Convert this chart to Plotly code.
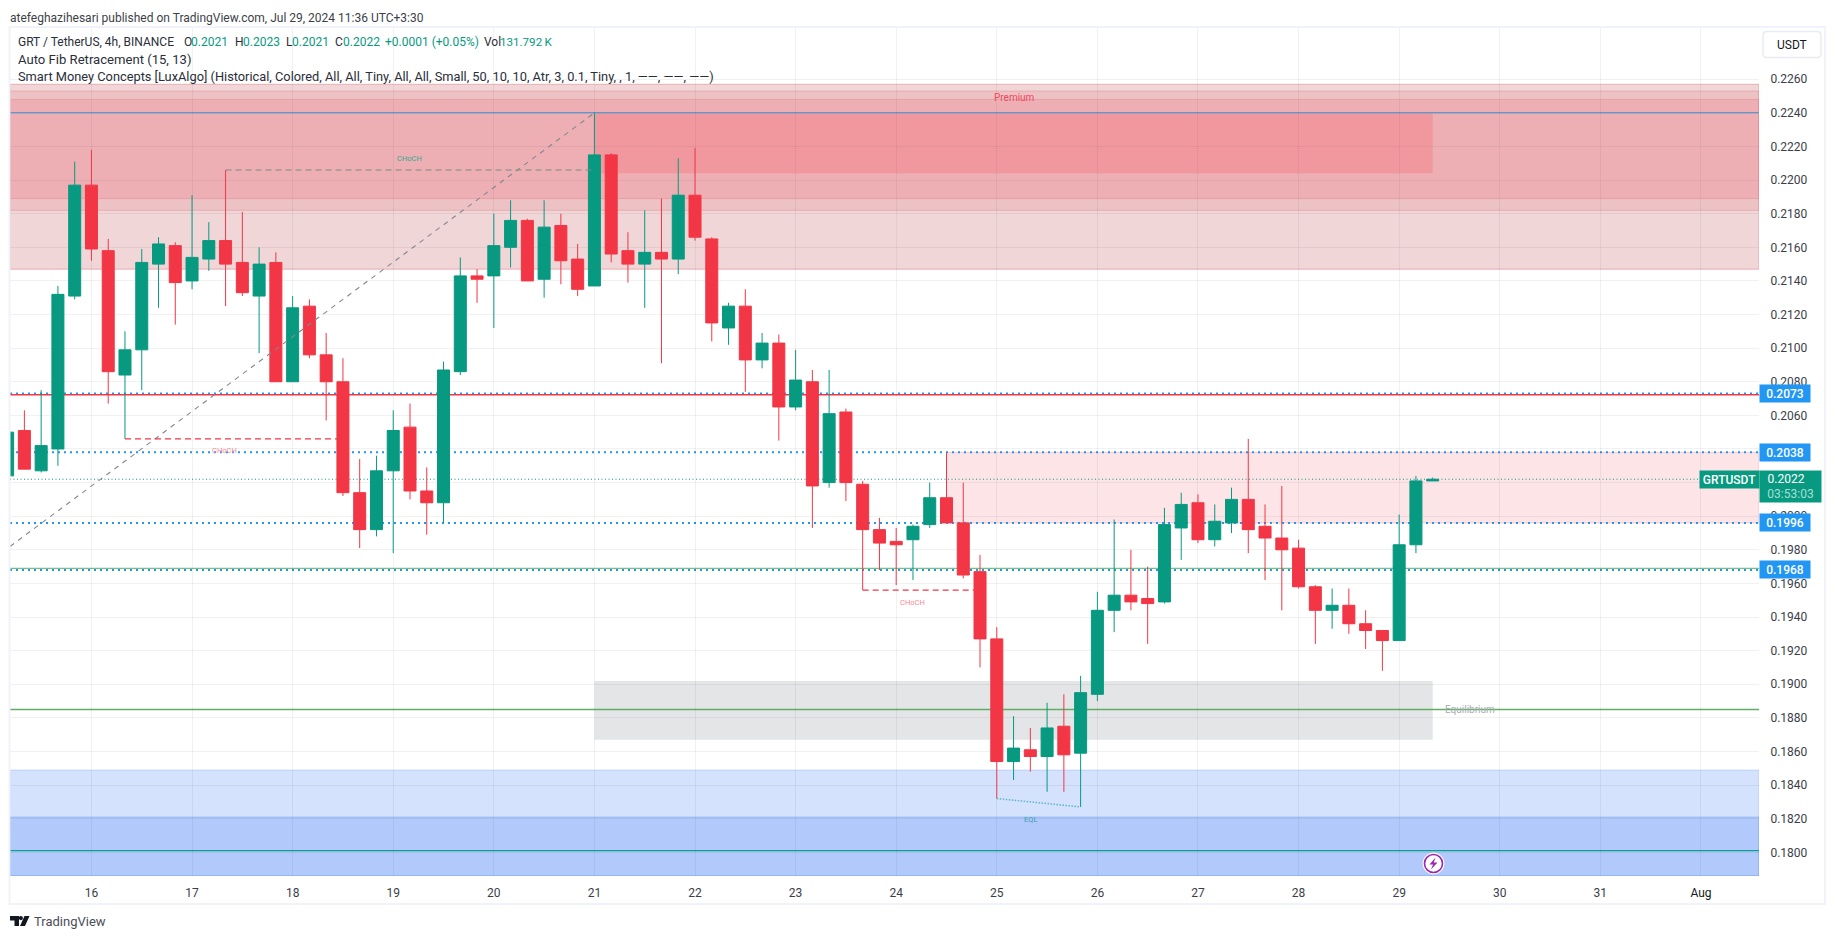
import plotly.graph_objects as go
import pandas as pd

# ---------- data ----------
start = "2024-07-15 04:00"
opens = [.2024,.2051,.2027,.2040,.2131,.2197,.2158,.2084,.2099,.2150,.2161,.2140,.2153,.2164,.2151,.2131,.2151,.2080,.2125,.2096,.2080,.2014,.1992,.2027,.2053,.2015,.2008,.2086,.2143,.2143,.2160,.2176,.2141,.2173,.2153,.2137,.2215,.2158,.2150,.2157,.2153,.2191,.2165,.2112,.2125,.2093,.2103,.2065,.2080,.2020,.2062,.2019,.1992,.1985,.1986,.1995,.2011,.1996,.1967,.1927,.1854,.1861,.1857,.1875,.1859,.1894,.1944,.1953,.1951,.1949,.1993,.2008,.1986,.1996,.2010,.1994,.1987,.1981,.1958,.1944,.1947,.1936,.1932,.1926,.1983,.2021]
highs = [.2052,.2063,.2075,.2137,.2211,.2218,.2165,.2110,.2159,.2166,.2163,.2191,.2175,.2206,.2181,.2160,.2157,.2131,.2129,.2109,.2094,.2034,.2036,.2063,.2067,.2029,.2092,.2154,.2147,.2180,.2188,.2177,.2188,.2180,.2162,.2240,.2216,.2169,.2182,.2189,.2213,.2219,.2166,.2127,.2135,.2109,.2108,.2099,.2087,.2087,.2064,.2021,.1999,.1993,.1995,.2020,.2038,.2020,.1977,.1934,.1881,.1874,.1889,.1894,.1905,.1955,.1998,.1980,.1970,.2005,.2014,.2013,.2007,.2017,.2046,.2007,.2018,.1986,.1959,.1957,.1957,.1944,.1932,.2001,.2024,.2023]
lows = [.2021,.2028,.2026,.2030,.2129,.2152,.2067,.2046,.2075,.2124,.2114,.2135,.2146,.2125,.2131,.2097,.2080,.2080,.2094,.2057,.2012,.1981,.1988,.1978,.2010,.1989,.1996,.2084,.2127,.2112,.2148,.2140,.2130,.2138,.2131,.2137,.2151,.2139,.2124,.2091,.2144,.2164,.2104,.2102,.2074,.2088,.2045,.2063,.1993,.2017,.2009,.1956,.1968,.1959,.1962,.1993,.1996,.1963,.1910,.1832,.1843,.1848,.1836,.1836,.1827,.1890,.1931,.1944,.1924,.1948,.1974,.1984,.1982,.1990,.1978,.1962,.1944,.1957,.1924,.1933,.1930,.1921,.1908,.1926,.1978,.2021]
closes = [.2050,.2028,.2042,.2132,.2197,.2159,.2086,.2099,.2151,.2162,.2139,.2154,.2164,.2150,.2133,.2150,.2080,.2124,.2096,.2080,.2014,.1992,.2027,.2051,.2015,.2008,.2087,.2143,.2141,.2161,.2176,.2140,.2172,.2152,.2135,.2215,.2156,.2150,.2157,.2153,.2191,.2166,.2115,.2125,.2093,.2103,.2065,.2081,.2018,.2061,.2020,.1992,.1984,.1983,.1994,.2011,.1996,.1965,.1927,.1854,.1862,.1857,.1874,.1858,.1895,.1944,.1953,.1949,.1948,.1995,.2007,.1986,.1997,.2010,.1992,.1987,.1980,.1958,.1944,.1947,.1936,.1932,.1926,.1983,.2021,.2022]

y_ticks = [.1800,.1820,.1840,.1860,.1880,.1900,.1920,.1940,.1960,.1980,.2000,.2020,.2040,.2060,.2080,.2100,.2120,.2140,.2160,.2180,.2200,.2220,.2240,.2260]
day_ticks = ["2024-07-%02d" % d for d in range(16, 32)] + ["2024-08-01"]
day_labels = [str(d) for d in range(16, 32)] + ['<span style="color:#131722">Aug</span>']
x_range = ["2024-07-15 04:34", "2024-08-01 13:51"]
y_range = [0.17859, 0.22905]

ob_time = "2024-07-21 00:00"
zone_end = "2024-07-29 08:00"
supply_time = "2024-07-24 12:00"
premium_outer = [.2147, .2257]
premium_mid = [.2182, .2253]
premium_inner = [.2189, .2248]
order_block = [.2204, .2240]
supply = [.1996, .2038]
equilibrium_zone = [.1867, .1902]
blue_outer = [.1786, .1849]
blue_inner = [.1786, .1821]

fib_top = .2240
red_level = .20722
blue_levels = [.2073, .2038, .1996, .1968]
green_level = .19690
last_price = .2022
eq_level = .1885
teal_level = .1801

fib_x = ["2024-07-15 04:34", "2024-07-21 00:00"]
fib_y = [.1982, .2240]
choch1_x = ["2024-07-17 08:00", "2024-07-21 00:00"]; choch1_y = [.2206, .2206]
choch2_x = ["2024-07-16 08:00", "2024-07-18 12:00"]; choch2_y = [.2046, .2046]
choch3_x = ["2024-07-23 16:00", "2024-07-24 20:00"]; choch3_y = [.1956, .1956]
eql_x = ["2024-07-25 00:00", "2024-07-25 20:00"]; eql_y = [.1832, .1827]

# ---------- page geometry ----------
W, H = 1835, 939
L, R, T, B = 10, 1759, 27.5, 876
def px(x): return (x - L) / (R - L)
def py(y): return 1 - (y - T) / (B - T)

GREEN, RED, BLUE = "#089981", "#F23645", "#2196F3"
times = list(pd.date_range(start, periods=len(opens), freq="4h").strftime("%Y-%m-%d %H:%M"))

fig = go.Figure()

def zone(x0, x1, rng, fill, edge):
    fig.add_shape(type="rect", xref="x", yref="y", x0=x0, x1=x1, y0=rng[0], y1=rng[1],
                  fillcolor=fill, line=dict(color=edge, width=1), layer="below")

zone(x_range[0], x_range[1], premium_outer, "rgba(180,35,50,.19)", "rgba(225,130,140,.55)")
zone(x_range[0], x_range[1], premium_mid, "rgba(213,78,81,.14)", "rgba(225,130,140,.45)")
zone(x_range[0], x_range[1], premium_inner, "rgba(241,91,104,.18)", "rgba(225,130,140,.45)")
zone(ob_time, zone_end, order_block, "rgba(247,98,106,.3)", "rgba(0,0,0,0)")
zone(supply_time, x_range[1], supply, "rgba(242,54,69,.13)", "rgba(242,54,69,.2)")
zone(ob_time, zone_end, equilibrium_zone, "rgba(120,123,134,.2)", "rgba(0,0,0,0)")
zone(x_range[0], x_range[1], blue_outer, "rgba(41,110,245,.2)", "rgba(41,110,245,.2)")
zone(x_range[0], x_range[1], blue_inner, "rgba(41,110,245,.2)", "rgba(41,110,245,.25)")

def hline(v, color, width, dash="solid", x1=None):
    fig.add_shape(type="line", xref="x", yref="y", x0=x_range[0], x1=x1 or x_range[1], y0=v, y1=v,
                  line=dict(color=color, width=width, dash=dash), layer="below")

for v in blue_levels:
    hline(v, BLUE, 2, "2px,4px")
hline(fib_top, "#6f9ccb", 1.5)
hline(red_level, RED, 1.5)
hline(green_level, "#78c27c", 1.2)
hline(last_price, GREEN, 1, "1px,2.5px", x1="2024-07-31 23:30")
hline(eq_level, "#5fae63", 1.5)
hline(teal_level, "#08a08f", 1.2)

def seg(x, y, color, dash, width=1):
    fig.add_trace(go.Scatter(x=x, y=y, mode="lines", hoverinfo="skip", showlegend=False,
                             line=dict(color=color, width=width, dash=dash)))

seg(fib_x, fib_y, "#85878f", "5px,5px", 1.1)
seg(choch1_x, choch1_y, "#7b8b82", "6px,4px", 1.2)
seg(choch2_x, choch2_y, RED, "6px,4px", 1.2)
seg(choch3_x, choch3_y, RED, "6px,4px", 1.2)
seg(eql_x, eql_y, "#5cb6c2", "1.5px,1.5px", 1.5)

fig.add_trace(go.Candlestick(
    x=times, open=opens, high=highs, low=lows, close=closes, showlegend=False,
    increasing=dict(line=dict(color=GREEN, width=1), fillcolor=GREEN),
    decreasing=dict(line=dict(color=RED, width=1), fillcolor=RED),
    hoverinfo="skip"))

def data_label(text, x, y, color, size=7.5):
    fig.add_annotation(text=text, xref="x", yref="y", x=x, y=y, showarrow=False,
                       font=dict(family="Roboto", size=size, color=color), xanchor="center", yanchor="middle")

data_label("CHoCH", "2024-07-19 03:48", .22130, "#3aa893")
data_label("CHoCH", "2024-07-17 07:38", .20390, "#f88a93")
data_label("CHoCH", "2024-07-24 03:48", .19486, "#f88a93")
data_label("EQL", "2024-07-25 07:56", .18195, "#3f9fb4")
data_label("Premium", "2024-07-25 04:10", .2249, "#f0475a", 10)
data_label("Equilibrium", "2024-07-29 17:00", .1885, "#a9adb5", 10)

def txt(text, x, y, size=12, color="#131722", anchor="left", family="Roboto"):
    fig.add_annotation(text=text, xref="paper", yref="paper", x=px(x), y=py(y), showarrow=False,
                       font=dict(family=family, size=size, color=color), xanchor=anchor, yanchor="middle",
                       borderpad=0, borderwidth=0)

txt("atefeghazihesari published on TradingView.com, Jul 29, 2024 11:36 UTC+3:30", 10, 17.5, 12, "#3c3f47")
hdr = "#2a2e39"
txt("GRT / TetherUS, 4h, BINANCE", 18, 41.5, 12, hdr)
txt("O", 184, 41.5, 12, hdr); txt("0.2021", 191, 41.5, 12, GREEN)
txt("H", 235, 41.5, 12, hdr); txt("0.2023", 243, 41.5, 12, GREEN)
txt("L", 286, 41.5, 12, hdr); txt("0.2021", 292, 41.5, 12, GREEN)
txt("C", 335, 41.5, 12, hdr); txt("0.2022", 343, 41.5, 12, GREEN)
txt("+0.0001 (+0.05%)", 385, 41.5, 12, GREEN)
txt("Vol", 484, 41.5, 12, hdr); txt("131.792\u2009K", 500, 41.5, 11.6, GREEN)
txt("Auto Fib Retracement (15, 13)", 18, 59, 13.1, hdr)
txt("Smart Money Concepts [LuxAlgo] (Historical, Colored, All, All, Tiny, All, All, Small, 50, 10, 10, Atr, 3, 0.1, Tiny, , 1, \u2014\u2014, \u2014\u2014, \u2014\u2014)", 18, 76, 12.8, hdr)
txt("USDT", 1791.5, 45, 12, "#131722", "center")
txt("TradingView", 34, 921.5, 13, "#4a4e57")

# price tags
def tag(v, text):
    fig.add_annotation(text=text, xref="paper", yref="y", x=1, y=v, xanchor="left", yanchor="middle",
                       showarrow=False, width=50, height=17, bgcolor=BLUE, align="center", borderpad=0,
                       font=dict(family="Roboto", size=12, color="white", weight=500))
for v in blue_levels:
    tag(v, "%.4f" % v)
fig.add_annotation(text='0.2022\u00a0\u00a0\u00a0<br><span style="color:#a6dfd3">03:53:03</span>', xref="paper", yref="paper",
                   x=1, y=py(486.5), xanchor="left", yanchor="middle", showarrow=False, width=61, height=31,
                   bgcolor=GREEN, align="center", borderpad=0,
                   font=dict(family="Roboto", size=12, color="white"))
fig.add_annotation(text="GRTUSDT", xref="paper", yref="paper", x=px(1699), y=py(479.5), xanchor="left",
                   yanchor="middle", showarrow=False, width=59, height=17, bgcolor=GREEN, align="center",
                   borderpad=0, font=dict(family="Roboto", size=12, color="white", weight=500))

def pshape(**k):
    fig.add_shape(xref="paper", yref="paper", layer="above", **k)

# outer frame
pshape(type="rect", x0=px(9.5), x1=px(1825), y0=py(26.5), y1=py(904), line=dict(color="#f0f3fa", width=2))
# USDT button
bx0, bx1, by0, by1 = px(1763), px(1821), py(31), py(57)
rx, ry = 4 / (R - L), 4 / (B - T)
pshape(type="path", line=dict(color="#e9ebf1", width=1.5),
       path=f"M {bx0+rx} {by0} L {bx1-rx} {by0} Q {bx1} {by0} {bx1} {by0-ry} L {bx1} {by1+ry} Q {bx1} {by1} {bx1-rx} {by1} "
            f"L {bx0+rx} {by1} Q {bx0} {by1} {bx0} {by1+ry} L {bx0} {by0-ry} Q {bx0} {by0} {bx0+rx} {by0} Z")
# TradingView logo
def poly(pts, color):
    p = "M " + " L ".join(f"{px(a)} {py(b)}" for a, b in pts) + " Z"
    pshape(type="path", path=p, fillcolor=color, line=dict(width=0))
poly([(10, 916), (19, 916), (19, 926), (14.5, 926), (14.5, 920.5), (10, 920.5)], "#131722")
poly([(24.5, 916), (29.5, 916), (25, 926), (20, 926)], "#131722")
pshape(type="circle", x0=px(18.8), x1=px(23), y0=py(916), y1=py(920.2), fillcolor="#131722", line=dict(width=0))
# lightning badge
pshape(type="circle", x0=px(1423), x1=px(1444), y0=py(853), y1=py(874), fillcolor="white", line=dict(color="white", width=1))
pshape(type="circle", x0=px(1424.5), x1=px(1442.5), y0=py(854.5), y1=py(872.5), fillcolor="white", line=dict(color="#9c27b0", width=1.6))
poly([(1435.5, 857.5), (1429.5, 864.5), (1433, 864.5), (1431, 869.5), (1437.5, 862.5), (1433.8, 862.5)], "#9c27b0")

grid = "rgba(42,46,57,.065)"
fig.update_layout(
    width=W, height=H, autosize=False, paper_bgcolor="white", plot_bgcolor="white",
    margin=dict(l=L, r=W - R, t=T, b=H - B), showlegend=False, boxgap=0.284, boxgroupgap=0,
    font=dict(family="Roboto", size=12, color="#3a3e49"),
    xaxis=dict(type="date", range=x_range, rangeslider=dict(visible=False), tickmode="array",
               tickvals=day_ticks, ticktext=day_labels, showgrid=True, gridcolor=grid, gridwidth=1,
               ticks="outside", ticklen=6, tickcolor="rgba(0,0,0,0)", showline=False, zeroline=False,
               tickfont=dict(size=12, color="#3a3e49")),
    yaxis=dict(side="right", range=y_range, tickmode="array", tickvals=y_ticks,
               ticktext=["%.4f" % v for v in y_ticks], showgrid=True, gridcolor=grid, gridwidth=1,
               ticks="outside", ticklen=8, tickcolor="rgba(0,0,0,0)", showline=False, zeroline=False,
               tickfont=dict(size=12, color="#3a3e49")),
)

fig.write_html("out.html", config=dict(displayModeBar=False), post_script="document.body.style.margin='0';document.body.style.overflow='hidden';")
